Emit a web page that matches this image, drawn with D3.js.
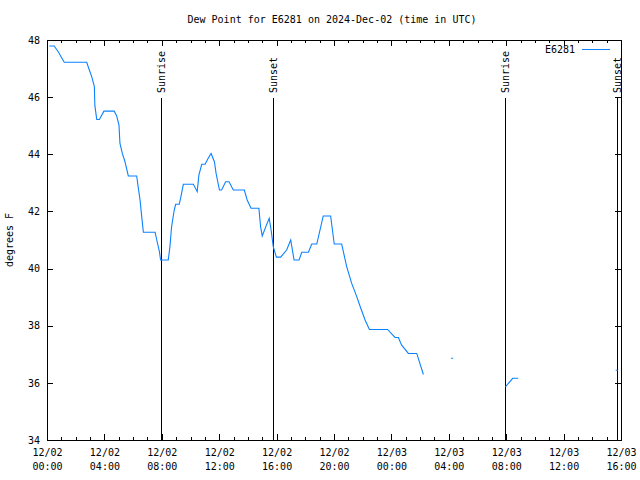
<!DOCTYPE html>
<html>
<head>
<meta charset="utf-8">
<script src="https://cdn.jsdelivr.net/npm/d3@7"></script>
<style>
  body { margin: 0; background: #fff; }
  svg { display: block; }
  text { font-family: "DejaVu Sans Mono", "Liberation Mono", monospace; font-size: 10px; fill: #000; }
</style>
</head>
<body>
<svg id="chart" width="640" height="480"></svg>
<script>
// ---- data ----
const title = "Dew Point for E6281 on 2024-Dec-02 (time in UTC)";
const yLabel = "degrees F";
const seriesName = "E6281";
const xStart = "2024-12-02T00:00";
const xEnd = "2024-12-03T16:00";
const yTicks = [34, 36, 38, 40, 42, 44, 46, 48];
const eventNames = ["Sunrise", "Sunset", "Sunrise", "Sunset"];
const eventTimes = ["2024-12-02T07:55", "2024-12-02T15:45", "2024-12-03T07:56", "2024-12-03T15:43"];

const dewTimes = [
  "2024-12-02T00:12","2024-12-02T00:30","2024-12-02T00:47","2024-12-02T01:12","2024-12-02T02:46",
  "2024-12-02T02:57","2024-12-02T03:07","2024-12-02T03:18","2024-12-02T03:20","2024-12-02T03:28",
  "2024-12-02T03:39","2024-12-02T03:58","2024-12-02T04:41","2024-12-02T04:51","2024-12-02T05:01",
  "2024-12-02T05:05","2024-12-02T05:15","2024-12-02T05:26","2024-12-02T05:40","2024-12-02T06:15",
  "2024-12-02T06:22","2024-12-02T06:29","2024-12-02T06:36","2024-12-02T06:43","2024-12-02T07:32",
  "2024-12-02T07:39","2024-12-02T07:50","2024-12-02T07:55","2024-12-02T08:27","2024-12-02T08:34",
  "2024-12-02T08:41","2024-12-02T08:52","2024-12-02T08:58","2024-12-02T09:13","2024-12-02T09:20",
  "2024-12-02T09:30","2024-12-02T10:12","2024-12-02T10:28","2024-12-02T10:35","2024-12-02T10:47",
  "2024-12-02T11:01","2024-12-02T11:14","2024-12-02T11:26","2024-12-02T11:40","2024-12-02T11:47",
  "2024-12-02T12:01","2024-12-02T12:10","2024-12-02T12:27","2024-12-02T12:41","2024-12-02T12:59",
  "2024-12-02T13:45","2024-12-02T13:57","2024-12-02T14:13","2024-12-02T14:46","2024-12-02T14:53",
  "2024-12-02T15:00","2024-12-02T15:15","2024-12-02T15:29","2024-12-02T15:37","2024-12-02T15:46",
  "2024-12-02T15:59","2024-12-02T16:17","2024-12-02T16:42","2024-12-02T16:59","2024-12-02T17:13",
  "2024-12-02T17:34","2024-12-02T17:45","2024-12-02T18:13","2024-12-02T18:27","2024-12-02T18:48",
  "2024-12-02T19:15","2024-12-02T19:46","2024-12-02T20:01","2024-12-02T20:32","2024-12-02T20:53",
  "2024-12-02T21:14","2024-12-02T21:35","2024-12-02T21:52","2024-12-02T22:10","2024-12-02T22:28",
  "2024-12-02T23:44","2024-12-03T00:15","2024-12-03T00:29","2024-12-03T00:43","2024-12-03T01:11",
  "2024-12-03T01:46","2024-12-03T02:13","2024-12-03T02:30",
  "2024-12-03T04:12","2024-12-03T04:16","2024-12-03T05:00",
  "2024-12-03T07:58","2024-12-03T08:27","2024-12-03T08:48","2024-12-03T12:00",
  "2024-12-03T15:40","2024-12-03T15:44"
];
const dewValues = [
  47.79,47.79,47.59,47.22,47.22,
  46.95,46.72,46.37,45.72,45.22,
  45.22,45.51,45.51,45.35,45.02,
  44.38,44.03,43.74,43.24,43.24,
  42.81,42.40,41.82,41.27,41.27,
  41.00,40.59,40.30,40.30,40.77,
  41.47,42.05,42.25,42.25,42.52,
  42.95,42.95,42.69,43.27,43.65,
  43.65,43.86,44.03,43.74,43.33,
  42.75,42.75,43.04,43.04,42.75,
  42.75,42.40,42.11,42.11,41.47,
  41.14,41.47,41.76,41.35,40.77,
  40.40,40.40,40.65,41.00,40.30,
  40.30,40.57,40.57,40.86,40.86,
  41.84,41.84,40.86,40.86,40.07,
  39.48,39.02,38.61,38.20,37.87,
  37.87,37.59,37.59,37.32,37.03,
  37.03,36.31,null,
  36.86,36.86,null,
  35.87,36.16,36.16,null,
  36.44,36.44
];

// ---- chart ----
const parse = d3.utcParse("%Y-%m-%dT%H:%M");
const svg = d3.select("#chart");
const L = 47, R = 621, T = 40, B = 440;
const lineColor = "#0a82ff";

const x = d3.scaleUtc().domain([parse(xStart), parse(xEnd)]).range([L, R]);
const y = d3.scaleLinear().domain([34, 48]).range([B, T]);

const data = dewTimes.map((t, i) => ({ t: parse(t), v: dewValues[i] }));

// title
svg.append("text").attr("x", 332).attr("y", 23).attr("text-anchor", "middle").text(title);
// y label
svg.append("text").attr("transform", "translate(13,240) rotate(-90)")
  .attr("text-anchor", "middle").text(yLabel);

const g = svg.append("g").attr("shape-rendering", "crispEdges");

// x ticks
const majorTicks = d3.utcHour.every(4).range(parse(xStart), d3.utcMinute.offset(parse(xEnd), 1));
const minorTicks = d3.utcHour.every(1).range(parse(xStart), d3.utcMinute.offset(parse(xEnd), 1));
const fmtDate = d3.utcFormat("%m/%d"), fmtTime = d3.utcFormat("%H:%M");

const bottomAxis = d3.axisBottom(x).tickValues(majorTicks).tickSize(0).tickFormat(d => fmtDate(d));
const ax = svg.append("g").attr("transform", `translate(0,${B})`).call(bottomAxis);
ax.select(".domain").remove();
ax.selectAll(".tick text").each(function(d) {
  const t = d3.select(this);
  t.text(null).attr("y", 0).attr("dy", null);
  t.append("tspan").attr("x", 0).attr("y", 16).text(fmtDate(d));
  t.append("tspan").attr("x", 0).attr("y", 30).text(fmtTime(d));
});
ax.selectAll(".tick text").style("font-family", "DejaVu Sans Mono").style("font-size", "10px").attr("fill", "#000");

// tick marks (bottom and top)
minorTicks.forEach(d => {
  const len = majorTicks.some(m => +m === +d) ? 6 : 3;
  const px = Math.round(x(d)) + 0.5;
  g.append("line").attr("x1", px).attr("x2", px).attr("y1", B).attr("y2", B - len).attr("stroke", "#000");
  g.append("line").attr("x1", px).attr("x2", px).attr("y1", T).attr("y2", T + len).attr("stroke", "#000");
});

// y axis
const leftAxis = d3.axisLeft(y).tickValues(yTicks).tickSize(0).tickPadding(7);
const ay = svg.append("g").attr("transform", `translate(${L},0)`).call(leftAxis);
ay.select(".domain").remove();
ay.selectAll(".tick text").style("font-family", "DejaVu Sans Mono").style("font-size", "10px").attr("fill", "#000");
yTicks.forEach(v => {
  const py = Math.round(y(v)) + 0.5;
  g.append("line").attr("x1", L).attr("x2", L + 6).attr("y1", py).attr("y2", py).attr("stroke", "#000");
  g.append("line").attr("x1", R).attr("x2", R - 6).attr("y1", py).attr("y2", py).attr("stroke", "#000");
});

// frame
g.append("rect").attr("x", L + 0.5).attr("y", T + 0.5).attr("width", R - L).attr("height", B - T)
  .attr("fill", "none").attr("stroke", "#000");

// sunrise / sunset
eventTimes.forEach((t, i) => {
  const px = Math.round(x(parse(t))) + 0.5;
  g.append("line").attr("x1", px).attr("x2", px).attr("y1", 98).attr("y2", B).attr("stroke", "#000");
  svg.append("text").attr("transform", `translate(${px},93) rotate(-90)`)
    .attr("dominant-baseline", "central").attr("text-anchor", "start").text(eventNames[i]);
});

// legend
svg.append("text").attr("x", 575).attr("y", 49).attr("text-anchor", "end")
  .attr("dominant-baseline", "central").text(seriesName);
g.append("line").attr("x1", 582).attr("x2", 610).attr("y1", 49.5).attr("y2", 49.5).attr("stroke", lineColor);

// series line
const line = d3.line().defined(d => d.v != null).x(d => x(d.t)).y(d => y(d.v));
svg.append("path").datum(data).attr("d", line).attr("fill", "none")
  .attr("stroke", lineColor).attr("stroke-width", 1.1).attr("stroke-linecap", "square");
</script>
</body>
</html>
